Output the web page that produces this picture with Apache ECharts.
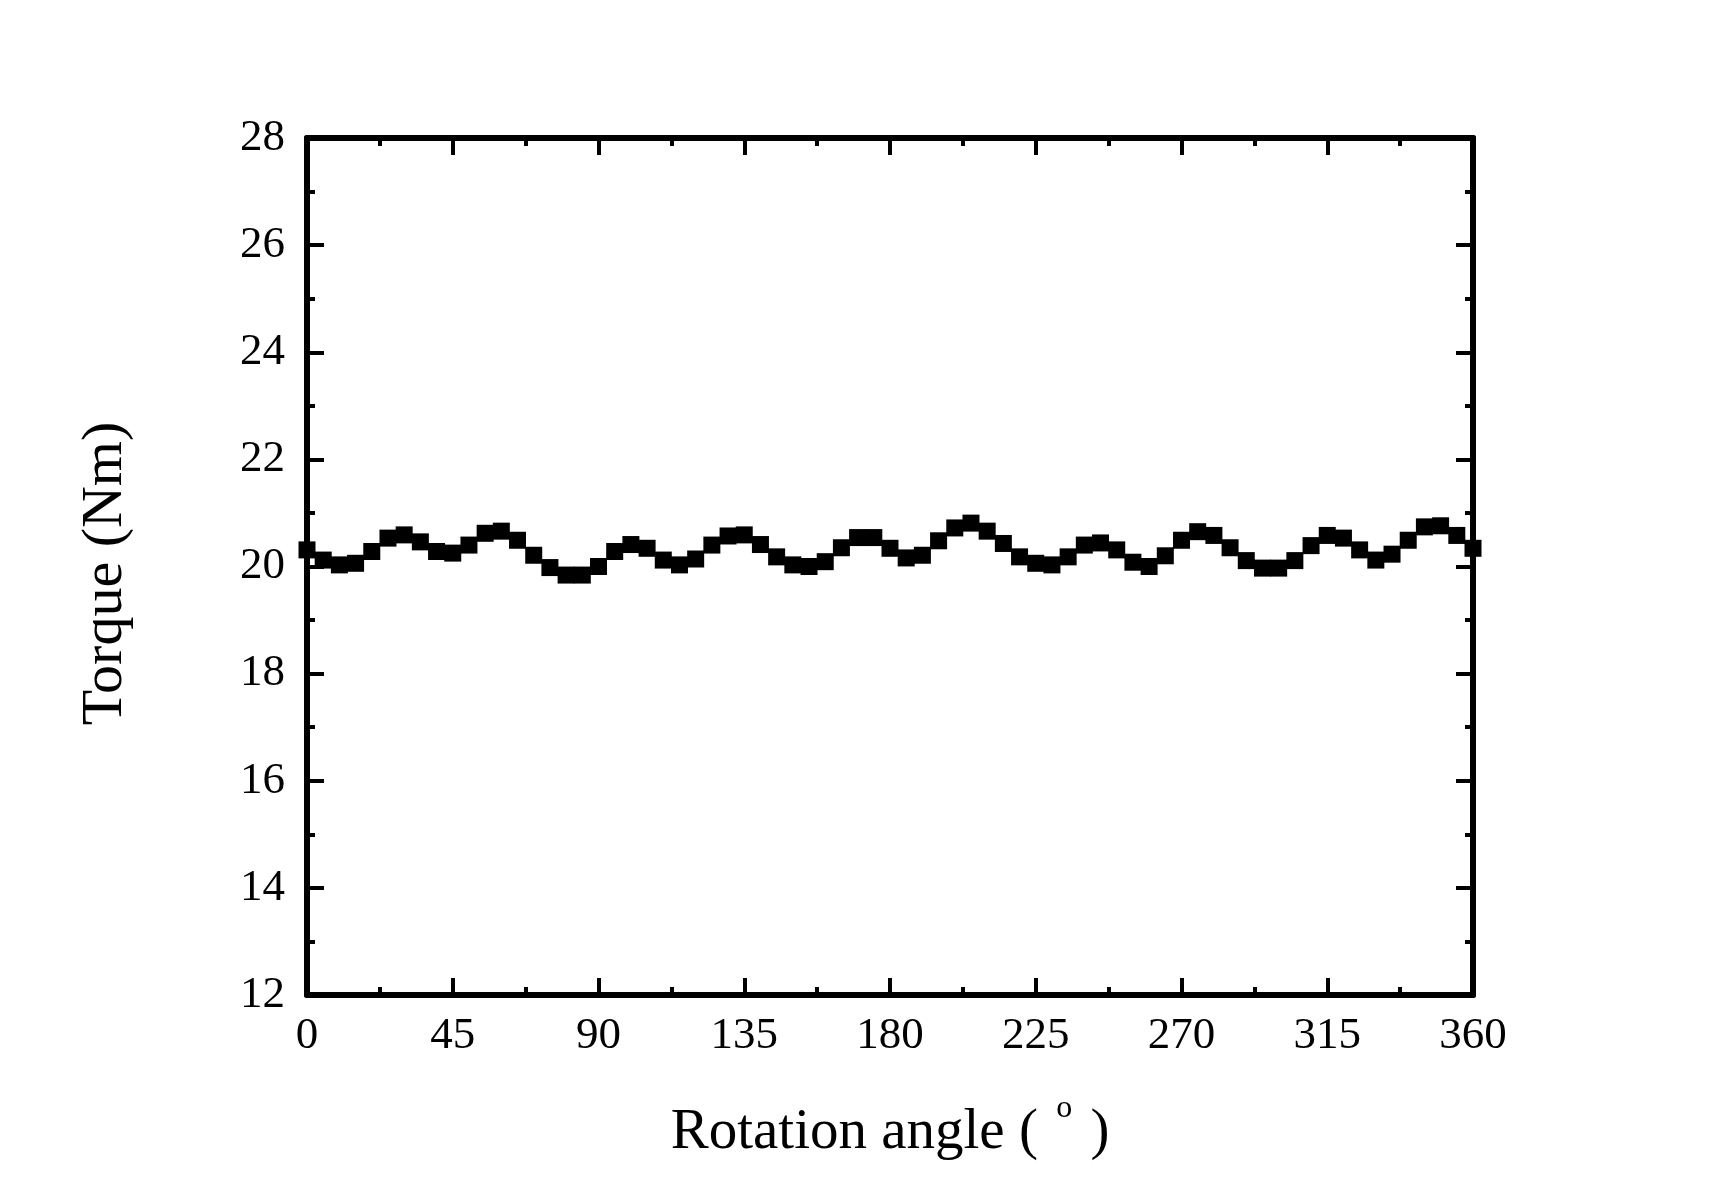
<!DOCTYPE html>
<html>
<head>
<meta charset="utf-8">
<script src="https://cdn.jsdelivr.net/npm/echarts@6/dist/echarts.min.js"></script>
<style>
html,body{margin:0;padding:0;background:#fff;}
#chart{width:1710px;height:1194px;}
</style>
</head>
<body>
<div id="chart"></div>
<script>
const angles = [0,5,10,15,20,25,30,35,40,45,50,55,60,65,70,75,80,85,90,95,100,105,110,115,120,125,130,135,140,145,150,155,160,165,170,175,180,185,190,195,200,205,210,215,220,225,230,235,240,245,250,255,260,265,270,275,280,285,290,295,300,305,310,315,320,325,330,335,340,345,350,355,360];
const torque = [20.31,20.12,20.03,20.06,20.28,20.53,20.59,20.46,20.28,20.25,20.40,20.62,20.66,20.49,20.21,19.98,19.84,19.84,20.00,20.28,20.41,20.34,20.12,20.03,20.14,20.40,20.57,20.59,20.41,20.18,20.03,20.00,20.09,20.35,20.54,20.54,20.34,20.16,20.21,20.48,20.72,20.81,20.66,20.43,20.18,20.06,20.03,20.18,20.40,20.44,20.31,20.08,20.00,20.20,20.49,20.65,20.58,20.35,20.11,19.97,19.97,20.11,20.39,20.58,20.53,20.31,20.12,20.23,20.49,20.74,20.76,20.58,20.34];
const xTicks = [0,45,90,135,180,225,270,315,360];
const yTicks = [12,14,16,18,20,22,24,26,28];
const xTitle = 'Rotation angle ( {sup|o} )';
const yTitle = 'Torque (Nm)';

const FONT = '"Liberation Serif", "Times New Roman", serif';
const chart = echarts.init(document.getElementById('chart'), null, {renderer:'canvas'});
const lineW = 6;
const axisCommon = {
  axisLine:{show:true, onZero:false, lineStyle:{color:'#000', width:lineW}},
  axisTick:{show:true, inside:true, length:17, lineStyle:{color:'#000', width:4}},
  minorTick:{show:true, splitNumber:2, length:8, lineStyle:{color:'#000', width:4}},
  splitLine:{show:false}
};
const points = angles.map((a,i)=>[a, torque[i]]);
chart.setOption({
  animation:false,
  backgroundColor:'#fff',
  grid:{left:307, right:237, top:138, bottom:199, containLabel:false},
  xAxis:[
    Object.assign({
      type:'value', min:xTicks[0], max:xTicks[xTicks.length-1], interval:45, position:'bottom',
      axisLabel:{show:true, margin:19, color:'#000', fontFamily:FONT, fontSize:45},
      name:xTitle, nameLocation:'middle', nameGap:110,
      nameTextStyle:{color:'#000', fontFamily:FONT, fontSize:57,
        rich:{sup:{fontFamily:FONT, fontSize:32, lineHeight:10, color:'#000', padding:[0,4,50,4]}}}
    }, axisCommon),
    Object.assign({
      type:'value', min:xTicks[0], max:xTicks[xTicks.length-1], interval:45, position:'top',
      axisLabel:{show:false}
    }, axisCommon)
  ],
  yAxis:[
    Object.assign({
      type:'value', min:yTicks[0], max:yTicks[yTicks.length-1], interval:2, position:'left',
      axisLabel:{show:true, margin:22, color:'#000', fontFamily:FONT, fontSize:45},
      name:yTitle, nameLocation:'middle', nameGap:172, nameRotate:90,
      nameTextStyle:{color:'#000', fontFamily:FONT, fontSize:58, padding:[0,14,0,0]}
    }, axisCommon),
    Object.assign({
      type:'value', min:yTicks[0], max:yTicks[yTicks.length-1], interval:2, position:'right',
      axisLabel:{show:false}
    }, axisCommon)
  ],
  series:[{
    type:'line', xAxisIndex:0, yAxisIndex:0,
    data:points,
    symbol:'rect', symbolSize:17, showAllSymbol:true,
    itemStyle:{color:'#000'},
    lineStyle:{color:'#000', width:2},
    clip:true
  }]
});
</script>
</body>
</html>
